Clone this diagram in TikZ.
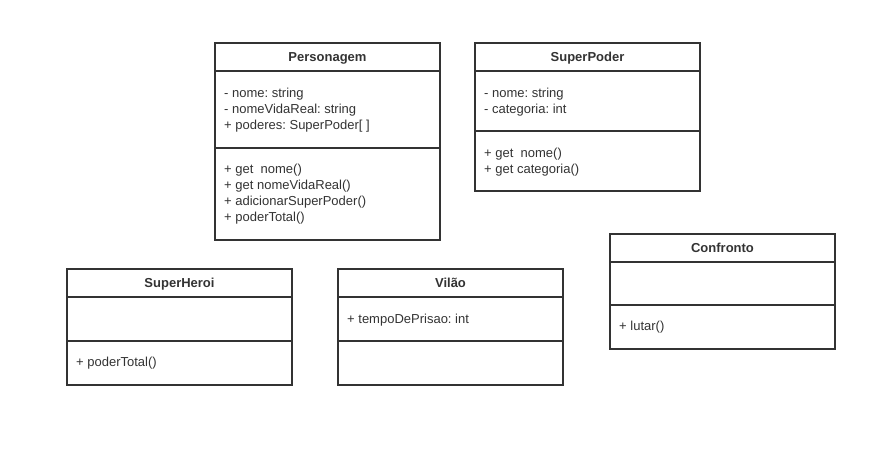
\documentclass[tikz,border=0pt]{standalone}
\usepackage{fontspec}
\setmainfont{Liberation Sans}
\definecolor{ink}{HTML}{333333}
\begin{document}
\frenchspacing
\begin{tikzpicture}[x=1pt,y=-1pt,
  classbox/.style={draw=ink,line width=1.2pt,fill=white,minimum width=225pt,inner sep=0pt,outer sep=0pt},
  sepline/.style={draw=ink,line width=1.2pt},
  title/.style={font=\fontsize{13}{16}\selectfont\bfseries\frenchspacing,text=ink,anchor=base,inner sep=0pt},
  members/.style={font=\fontsize{13}{16}\selectfont\frenchspacing,text=ink,anchor=north west,inner sep=0pt,align=left}]
\useasboundingbox (0,0) rectangle (881,449);
% Personagem
\node[classbox,minimum height=197pt,anchor=north west] (pers) at (215,43) {};
\draw[sepline] ([yshift=-28pt]pers.north west) -- ([yshift=-28pt]pers.north east);
\draw[sepline] ([yshift=-105pt]pers.north west) -- ([yshift=-105pt]pers.north east);
\node[title] (perst) at ([yshift=-18.5pt]pers.north) {Personagem};
\node[members] (persa) at (224,88) {- nome: string\\- nomeVidaReal: string\\+ poderes: SuperPoder[ ]};
\node[members] (persm) at (224,164) {+ get\ \ nome()\\+ get nomeVidaReal()\\+ adicionarSuperPoder()\\+ poderTotal()};
% SuperPoder
\node[classbox,minimum height=148pt,anchor=north west] (sp) at (475,43) {};
\draw[sepline] ([yshift=-28pt]sp.north west) -- ([yshift=-28pt]sp.north east);
\draw[sepline] ([yshift=-88pt]sp.north west) -- ([yshift=-88pt]sp.north east);
\node[title] (spt) at ([yshift=-18.5pt]sp.north) {SuperPoder};
\node[members] (spa) at (484,88) {- nome: string\\- categoria: int};
\node[members] (spm) at (484,148) {+ get\ \ nome()\\+ get categoria()};
% SuperHeroi
\node[classbox,minimum height=116pt,anchor=north west] (sh) at (67,269) {};
\draw[sepline] ([yshift=-28pt]sh.north west) -- ([yshift=-28pt]sh.north east);
\draw[sepline] ([yshift=-72pt]sh.north west) -- ([yshift=-72pt]sh.north east);
\node[title] (sht) at ([yshift=-18.5pt]sh.north) {SuperHeroi};
\node[members] (shm) at (76,357) {+ poderTotal()};
% Vilao
\node[classbox,minimum height=116pt,anchor=north west] (vi) at (338,269) {};
\draw[sepline] ([yshift=-28pt]vi.north west) -- ([yshift=-28pt]vi.north east);
\draw[sepline] ([yshift=-72pt]vi.north west) -- ([yshift=-72pt]vi.north east);
\node[title] (vit) at ([yshift=-18.5pt]vi.north) {Vilão};
\node[members] (via) at (347,314) {+ tempoDePrisao: int};
% Confronto
\node[classbox,minimum height=115pt,anchor=north west] (co) at (610,234) {};
\draw[sepline] ([yshift=-28pt]co.north west) -- ([yshift=-28pt]co.north east);
\draw[sepline] ([yshift=-71pt]co.north west) -- ([yshift=-71pt]co.north east);
\node[title] (cot) at ([yshift=-18.5pt]co.north) {Confronto};
\node[members] (com) at (619,321) {+ lutar()};
\end{tikzpicture}
\end{document}
